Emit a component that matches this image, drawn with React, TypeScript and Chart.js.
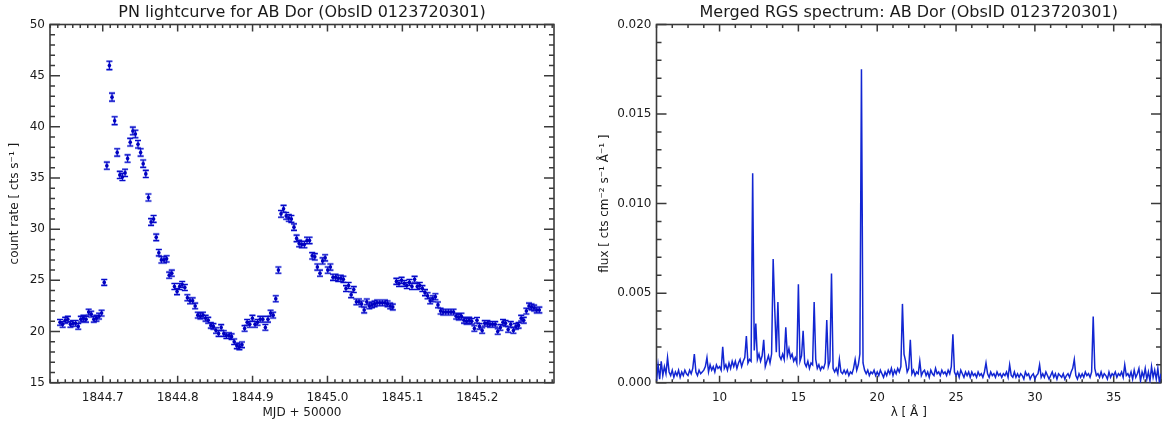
import React, { useEffect, useRef } from 'react';
import { Chart, registerables } from 'chart.js';
Chart.register(...registerables);

const FONT = '"DejaVu Sans", "Liberation Sans", sans-serif';
const INK = '#1a1a1a';
const FRAME = '#3a3a3a';

// ---------------- PN light curve ----------------
const lcTitle = 'PN lightcurve for AB Dor (ObsID 0123720301)';
const lcTime = [
  1844.6430, 1844.6465, 1844.6499, 1844.6534, 1844.6569, 1844.6604, 1844.6638, 1844.6673, 1844.6708, 1844.6742,
  1844.6777, 1844.6812, 1844.6846, 1844.6881, 1844.6916, 1844.6951, 1844.6985, 1844.7020, 1844.7055, 1844.7089,
  1844.7124, 1844.7159, 1844.7193, 1844.7228, 1844.7263, 1844.7298, 1844.7332, 1844.7367, 1844.7402, 1844.7436,
  1844.7471, 1844.7506, 1844.7540, 1844.7575, 1844.7610, 1844.7645, 1844.7679, 1844.7714, 1844.7749, 1844.7783,
  1844.7818, 1844.7853, 1844.7887, 1844.7922, 1844.7957, 1844.7992, 1844.8026, 1844.8061, 1844.8096, 1844.8130,
  1844.8165, 1844.8200, 1844.8234, 1844.8269, 1844.8304, 1844.8339, 1844.8373, 1844.8408, 1844.8443, 1844.8477,
  1844.8512, 1844.8547, 1844.8581, 1844.8616, 1844.8651, 1844.8686, 1844.8720, 1844.8755, 1844.8790, 1844.8824,
  1844.8859, 1844.8894, 1844.8928, 1844.8963, 1844.8998, 1844.9033, 1844.9067, 1844.9102, 1844.9137, 1844.9171,
  1844.9206, 1844.9241, 1844.9275, 1844.9310, 1844.9345, 1844.9380, 1844.9414, 1844.9449, 1844.9484, 1844.9518,
  1844.9553, 1844.9588, 1844.9622, 1844.9657, 1844.9692, 1844.9727, 1844.9761, 1844.9796, 1844.9831, 1844.9865,
  1844.9900, 1844.9935, 1844.9969, 1845.0004, 1845.0039, 1845.0074, 1845.0108, 1845.0143, 1845.0178, 1845.0212,
  1845.0247, 1845.0282, 1845.0316, 1845.0351, 1845.0386, 1845.0421, 1845.0455, 1845.0490, 1845.0525, 1845.0559,
  1845.0594, 1845.0629, 1845.0663, 1845.0698, 1845.0733, 1845.0768, 1845.0802, 1845.0837, 1845.0872,
  1845.0920, 1845.0955, 1845.0989, 1845.1024, 1845.1059, 1845.1094, 1845.1128, 1845.1163, 1845.1198, 1845.1232,
  1845.1267, 1845.1302, 1845.1336, 1845.1371, 1845.1406, 1845.1441, 1845.1475, 1845.1510, 1845.1545, 1845.1579,
  1845.1614, 1845.1649, 1845.1683, 1845.1718, 1845.1753, 1845.1788, 1845.1822, 1845.1857, 1845.1892, 1845.1926,
  1845.1961, 1845.1996, 1845.2030, 1845.2065, 1845.2100, 1845.2135, 1845.2169, 1845.2204, 1845.2239, 1845.2273,
  1845.2308, 1845.2343, 1845.2377, 1845.2412, 1845.2447, 1845.2482, 1845.2516, 1845.2551, 1845.2586, 1845.2620,
  1845.2655, 1845.2690, 1845.2724, 1845.2759, 1845.2794, 1845.2828,
];
const lcRate = [
  20.9, 20.7, 21.1, 21.2, 20.7, 20.8, 20.8, 20.5, 21.2, 21.3,
  21.2, 21.9, 21.7, 21.2, 21.3, 21.5, 21.8, 24.8, 36.2, 46.0,
  42.9, 40.6, 37.5, 35.3, 35.1, 35.5, 36.9, 38.5, 39.6, 39.3,
  38.3, 37.5, 36.4, 35.4, 33.1, 30.7, 31.0, 29.2, 27.7, 27.0,
  27.0, 27.1, 25.5, 25.7, 24.4, 23.9, 24.4, 24.6, 24.3, 23.3,
  23.0, 23.0, 22.5, 21.6, 21.5, 21.6, 21.3, 21.1, 20.6, 20.5,
  20.1, 19.8, 20.4, 19.8, 19.6, 19.6, 19.5, 19.0, 18.6, 18.5,
  18.7, 20.3, 20.9, 20.7, 21.3, 20.7, 20.9, 21.2, 21.2, 20.4,
  21.2, 21.8, 21.6, 23.2, 26.0, 31.5, 32.0, 31.3, 31.1, 31.0,
  30.2, 29.1, 28.6, 28.5, 28.5, 28.9, 28.9, 27.4, 27.3, 26.3,
  25.7, 26.9, 27.2, 26.0, 26.3, 25.3, 25.3, 25.2, 25.2, 25.1,
  24.2, 24.5, 23.6, 24.1, 22.9, 22.9, 22.7, 22.1, 22.9, 22.5,
  22.6, 22.7, 22.8, 22.8, 22.8, 22.8, 22.7, 22.5, 22.4,
  24.9, 24.7, 25.0, 24.7, 24.5, 24.8, 24.4, 25.1, 24.4, 24.5,
  24.2, 23.8, 23.5, 23.0, 23.2, 23.4, 22.6, 22.0, 21.9, 21.9,
  21.9, 21.9, 21.9, 21.5, 21.4, 21.5, 21.1, 21.0, 21.1, 21.0,
  20.3, 21.1, 20.5, 20.1, 20.8, 20.8, 20.7, 20.7, 20.7, 20.0,
  20.4, 20.9, 20.8, 20.2, 20.7, 20.1, 20.5, 20.6, 21.3, 21.1,
  22.0, 22.5, 22.4, 22.3, 22.1, 22.1,
];
const lcErr = [
  0.28, 0.28, 0.28, 0.28, 0.28, 0.28, 0.28, 0.28, 0.28, 0.28,
  0.28, 0.28, 0.28, 0.28, 0.28, 0.28, 0.28, 0.29, 0.35, 0.41,
  0.39, 0.38, 0.36, 0.35, 0.35, 0.35, 0.36, 0.37, 0.37, 0.37,
  0.37, 0.36, 0.36, 0.35, 0.34, 0.33, 0.33, 0.32, 0.31, 0.31,
  0.31, 0.31, 0.30, 0.30, 0.29, 0.29, 0.29, 0.29, 0.29, 0.29,
  0.29, 0.29, 0.28, 0.28, 0.28, 0.28, 0.28, 0.28, 0.27, 0.27,
  0.27, 0.27, 0.27, 0.27, 0.27, 0.27, 0.27, 0.27, 0.27, 0.27,
  0.27, 0.28, 0.28, 0.28, 0.28, 0.28, 0.28, 0.28, 0.28, 0.28,
  0.28, 0.28, 0.28, 0.29, 0.30, 0.33, 0.33, 0.33, 0.33, 0.33,
  0.32, 0.32, 0.31, 0.31, 0.31, 0.31, 0.31, 0.31, 0.31, 0.30,
  0.30, 0.30, 0.30, 0.30, 0.30, 0.30, 0.30, 0.30, 0.30, 0.30,
  0.29, 0.29, 0.29, 0.29, 0.28, 0.28, 0.28, 0.28, 0.28, 0.28,
  0.28, 0.28, 0.28, 0.28, 0.28, 0.28, 0.28, 0.28, 0.28,
  0.29, 0.29, 0.29, 0.29, 0.29, 0.29, 0.29, 0.29, 0.29, 0.29,
  0.29, 0.29, 0.29, 0.29, 0.29, 0.29, 0.28, 0.28, 0.28, 0.28,
  0.28, 0.28, 0.28, 0.28, 0.28, 0.28, 0.28, 0.28, 0.28, 0.28,
  0.27, 0.27, 0.27, 0.27, 0.27, 0.27, 0.27, 0.27, 0.27, 0.27,
  0.27, 0.27, 0.27, 0.27, 0.27, 0.27, 0.27, 0.27, 0.28, 0.28,
  0.28, 0.28, 0.28, 0.28, 0.28, 0.28,
];
const lcXTicks = [1844.7, 1844.8, 1844.9, 1845.0, 1845.1, 1845.2];
const lcYTicks = [15, 20, 25, 30, 35, 40, 45, 50];

// ---------------- RGS spectrum ----------------
const specTitle = 'Merged RGS spectrum: AB Dor (ObsID 0123720301)';
const wavelength = [
  6, 6.1, 6.2, 6.3, 6.4, 6.5, 6.6, 6.7, 6.8, 6.9,
  7, 7.1, 7.2, 7.3, 7.4, 7.5, 7.6, 7.7, 7.8, 7.9,
  8, 8.1, 8.2, 8.3, 8.4, 8.5, 8.6, 8.7, 8.8, 8.9,
  9, 9.1, 9.2, 9.3, 9.4, 9.5, 9.6, 9.7, 9.8, 9.9,
  10, 10.1, 10.2, 10.3, 10.4, 10.5, 10.6, 10.7, 10.8, 10.9,
  11, 11.1, 11.2, 11.3, 11.4, 11.5, 11.6, 11.7, 11.8, 11.9,
  12, 12.1, 12.2, 12.3, 12.4, 12.5, 12.6, 12.7, 12.8, 12.9,
  13, 13.1, 13.2, 13.3, 13.4, 13.5, 13.6, 13.7, 13.8, 13.9,
  14, 14.1, 14.2, 14.3, 14.4, 14.5, 14.6, 14.7, 14.8, 14.9,
  15, 15.1, 15.2, 15.3, 15.4, 15.5, 15.6, 15.7, 15.8, 15.9,
  16, 16.1, 16.2, 16.3, 16.4, 16.5, 16.6, 16.7, 16.8, 16.9,
  17, 17.1, 17.2, 17.3, 17.4, 17.5, 17.6, 17.7, 17.8, 17.9,
  18, 18.1, 18.2, 18.3, 18.4, 18.5, 18.6, 18.7, 18.8, 18.9,
  19, 19.1, 19.2, 19.3, 19.4, 19.5, 19.6, 19.7, 19.8, 19.9,
  20, 20.1, 20.2, 20.3, 20.4, 20.5, 20.6, 20.7, 20.8, 20.9,
  21, 21.1, 21.2, 21.3, 21.4, 21.5, 21.6, 21.7, 21.8, 21.9,
  22, 22.1, 22.2, 22.3, 22.4, 22.5, 22.6, 22.7, 22.8, 22.9,
  23, 23.1, 23.2, 23.3, 23.4, 23.5, 23.6, 23.7, 23.8, 23.9,
  24, 24.1, 24.2, 24.3, 24.4, 24.5, 24.6, 24.7, 24.8, 24.9,
  25, 25.1, 25.2, 25.3, 25.4, 25.5, 25.6, 25.7, 25.8, 25.9,
  26, 26.1, 26.2, 26.3, 26.4, 26.5, 26.6, 26.7, 26.8, 26.9,
  27, 27.1, 27.2, 27.3, 27.4, 27.5, 27.6, 27.7, 27.8, 27.9,
  28, 28.1, 28.2, 28.3, 28.4, 28.5, 28.6, 28.7, 28.8, 28.9,
  29, 29.1, 29.2, 29.3, 29.4, 29.5, 29.6, 29.7, 29.8, 29.9,
  30, 30.1, 30.2, 30.3, 30.4, 30.5, 30.6, 30.7, 30.8, 30.9,
  31, 31.1, 31.2, 31.3, 31.4, 31.5, 31.6, 31.7, 31.8, 31.9,
  32, 32.1, 32.2, 32.3, 32.4, 32.5, 32.6, 32.7, 32.8, 32.9,
  33, 33.1, 33.2, 33.3, 33.4, 33.5, 33.6, 33.7, 33.8, 33.9,
  34, 34.1, 34.2, 34.3, 34.4, 34.5, 34.6, 34.7, 34.8, 34.9,
  35, 35.1, 35.2, 35.3, 35.4, 35.5, 35.6, 35.7, 35.8, 35.9,
  36, 36.1, 36.2, 36.3, 36.4, 36.5, 36.6, 36.7, 36.8, 36.9,
  37, 37.1, 37.2, 37.3, 37.4, 37.5, 37.6, 37.7, 37.8, 37.9,
  38,
];
// flux in units of 1e-4 cts cm^-2 s^-1 A^-1
const fluxE4 = [
  1, 10, 2, 12, 4, 9, 5, 14, 6, 4,
  7, 3, 6, 4, 7, 3, 6, 4, 7, 5,
  4, 7, 5, 8, 16, 6, 4, 7, 5, 6,
  7, 9, 14, 6, 10, 7, 9, 6, 10, 8,
  9, 7, 20, 8, 10, 7, 11, 8, 12, 9,
  12, 8, 11, 13, 9, 12, 14, 26, 11, 13,
  12, 117, 18, 33, 13, 16, 12, 15, 24, 9,
  12, 15, 11, 16, 69, 41, 17, 45, 15, 13,
  16, 13, 31, 15, 19, 14, 16, 12, 14, 11,
  55, 12, 15, 29, 11, 9, 12, 8, 11, 10,
  45, 13, 8, 10, 7, 9, 8, 11, 35, 9,
  12, 61, 8, 6, 8, 5, 13, 6, 5, 7,
  5, 7, 4, 6, 5, 8, 13, 7, 10, 16,
  175, 11, 7, 5, 7, 4, 6, 5, 7, 4,
  6, 4, 7, 5, 3, 6, 4, 7, 5, 8,
  4, 7, 5, 8, 6, 9, 44, 16, 12, 6,
  8, 24, 5, 7, 4, 6, 5, 12, 4, 6,
  7, 4, 6, 3, 7, 5, 4, 8, 5, 6,
  4, 7, 5, 6, 4, 7, 5, 9, 27, 6,
  4, 6, 3, 7, 5, 3, 6, 4, 6, 3,
  6, 4, 5, 3, 6, 4, 5, 3, 6, 11,
  5, 3, 6, 4, 5, 3, 6, 4, 5, 3,
  5, 4, 6, 3, 10, 4, 3, 6, 3, 5,
  3, 5, 4, 2, 6, 4, 5, 2, 4, 5,
  2, 4, 5, 10, 3, 5, 3, 6, 4, 2,
  4, 6, 3, 5, 2, 5, 4, 3, 5, 2,
  4, 5, 3, 6, 8, 13, 4, 2, 5, 3,
  5, 3, 6, 4, 5, 3, 6, 37, 8, 4,
  5, 3, 6, 3, 5, 4, 2, 6, 3, 5,
  4, 6, 3, 5, 4, 6, 3, 10, 4, 5,
  3, 6, 2, 7, 3, 5, 8, 1, 6, 3,
  8, 2, 6, 1, 9, 3, 7, 2, 8, 0,
  5,
];
const specXTicks = [10, 15, 20, 25, 30, 35];
const specYTicks = [0, 0.005, 0.01, 0.015, 0.02];

// ---------------- plugins ----------------
function framePlugin(cfg: { title: string; xMinor: number; yMinor: number; xMajor: number[]; yMajor: number[] }) {
  return {
    id: 'idlFrame',
    beforeDatasetsDraw(chart: any) {
      const { ctx, chartArea: a, scales } = chart;
      const xs = scales.x, ys = scales.y;
      ctx.save();
      ctx.strokeStyle = FRAME;
      ctx.lineWidth = 1.5;
      const XMAJ = 7, XMIN = 3.5, YMAJ = 10, YMIN = 5;
      ctx.beginPath();
      const x0 = Math.ceil(xs.min / cfg.xMinor - 1e-6), x1 = Math.floor(xs.max / cfg.xMinor + 1e-6);
      for (let k = x0; k <= x1; k++) {
        const px = xs.getPixelForValue(k * cfg.xMinor);
        ctx.moveTo(px, a.bottom); ctx.lineTo(px, a.bottom - XMIN);
        ctx.moveTo(px, a.top); ctx.lineTo(px, a.top + XMIN);
      }
      for (const v of cfg.xMajor) {
        const px = xs.getPixelForValue(v);
        ctx.moveTo(px, a.bottom); ctx.lineTo(px, a.bottom - XMAJ);
        ctx.moveTo(px, a.top); ctx.lineTo(px, a.top + XMAJ);
      }
      const y0 = Math.ceil(ys.min / cfg.yMinor - 1e-6), y1 = Math.floor(ys.max / cfg.yMinor + 1e-6);
      for (let k = y0; k <= y1; k++) {
        const py = ys.getPixelForValue(k * cfg.yMinor);
        ctx.moveTo(a.left, py); ctx.lineTo(a.left + YMIN, py);
        ctx.moveTo(a.right, py); ctx.lineTo(a.right - YMIN, py);
      }
      for (const v of cfg.yMajor) {
        const py = ys.getPixelForValue(v);
        ctx.moveTo(a.left, py); ctx.lineTo(a.left + YMAJ, py);
        ctx.moveTo(a.right, py); ctx.lineTo(a.right - YMAJ, py);
      }
      ctx.stroke();
      ctx.lineWidth = 1.6;
      ctx.strokeRect(a.left, a.top, a.right - a.left, a.bottom - a.top);
      ctx.fillStyle = INK;
      ctx.font = `16px ${FONT}`;
      ctx.textAlign = 'center';
      ctx.textBaseline = 'middle';
      ctx.fillText(cfg.title, (a.left + a.right) / 2, 12.5);
      ctx.restore();
    },
  };
}

const errorBarPlugin = {
  id: 'errBars',
  beforeDatasetsDraw(chart: any) {
    const { ctx, scales } = chart;
    const xs = scales.x, ys = scales.y;
    ctx.save();
    for (const pass of [0, 1]) {
      ctx.strokeStyle = pass === 0 ? 'rgba(90,110,235,0.55)' : '#0a0ac8';
      ctx.lineWidth = pass === 0 ? 2.6 : 1.1;
      ctx.beginPath();
      for (let i = 0; i < lcTime.length; i++) {
        const px = xs.getPixelForValue(lcTime[i]);
        const lo = ys.getPixelForValue(lcRate[i] - lcErr[i]);
        const hi = ys.getPixelForValue(lcRate[i] + lcErr[i]);
        ctx.moveTo(px, lo); ctx.lineTo(px, hi);
        ctx.moveTo(px - 3, lo); ctx.lineTo(px + 3, lo);
        ctx.moveTo(px - 3, hi); ctx.lineTo(px + 3, hi);
      }
      ctx.stroke();
    }
    ctx.restore();
  },
};

const tickFont = { family: FONT, size: 12 };

function LightCurve() {
  const ref = useRef<HTMLCanvasElement>(null);
  useEffect(() => {
    const chart = new Chart(ref.current!, {
      type: 'scatter',
      data: {
        datasets: [{
          data: lcTime.map((t, i) => ({ x: t, y: lcRate[i] })),
          pointRadius: 1.8,
          pointBackgroundColor: '#0000c0',
          pointBorderWidth: 0,
          showLine: false,
        }],
      },
      options: {
        responsive: false,
        maintainAspectRatio: false,
        animation: false,
        events: [],
        layout: { padding: { top: 24.5, right: 26, left: 0, bottom: 0 } },
        plugins: { legend: { display: false }, tooltip: { enabled: false } },
        scales: {
          x: {
            type: 'linear', min: 1844.6296, max: 1845.3024,
            afterBuildTicks: (s: any) => { s.ticks = lcXTicks.map((v) => ({ value: v })); },
            afterFit: (s: any) => { s.height = 44.3; },
            grid: { display: false, drawTicks: false },
            border: { display: false },
            ticks: { padding: 8, color: INK, font: tickFont, maxRotation: 0, autoSkip: false, callback: (v: any) => Number(v).toFixed(1) },
            title: { display: true, text: 'MJD + 50000', color: INK, font: tickFont, padding: { top: 0, bottom: 7 } },
          },
          y: {
            type: 'linear', min: 15, max: 50,
            afterBuildTicks: (s: any) => { s.ticks = lcYTicks.map((v) => ({ value: v })); },
            afterFit: (s: any) => { s.width = 50; },
            grid: { display: false, drawTicks: false },
            border: { display: false },
            ticks: { padding: 5, color: INK, font: tickFont, callback: (v: any) => String(v) },
            title: { display: true, text: 'count rate [ cts s⁻¹ ]', color: INK, font: tickFont, padding: { top: 8, bottom: 0 } },
          },
        },
      },
      plugins: [framePlugin({ title: lcTitle, xMinor: 0.01, yMinor: 1, xMajor: lcXTicks, yMajor: lcYTicks }), errorBarPlugin],
    } as any);
    return () => chart.destroy();
  }, []);
  return <canvas ref={ref} width={580} height={427} style={{ position: 'absolute', left: 0, top: 0 }} />;
}

function Spectrum() {
  const ref = useRef<HTMLCanvasElement>(null);
  useEffect(() => {
    const chart = new Chart(ref.current!, {
      type: 'scatter',
      data: {
        datasets: [{
          data: wavelength.map((w, i) => ({ x: w, y: fluxE4[i] * 1e-4 })),
          showLine: true,
          pointRadius: 0,
          borderColor: '#1226d2',
          borderWidth: 1.5,
          tension: 0,
        }],
      },
      options: {
        responsive: false,
        maintainAspectRatio: false,
        animation: false,
        events: [],
        layout: { padding: { top: 24.5, right: 6, left: 0, bottom: 0 } },
        plugins: { legend: { display: false }, tooltip: { enabled: false } },
        scales: {
          x: {
            type: 'linear', min: 6, max: 38,
            afterBuildTicks: (s: any) => { s.ticks = specXTicks.map((v) => ({ value: v })); },
            afterFit: (s: any) => { s.height = 44.3; },
            grid: { display: false, drawTicks: false },
            border: { display: false },
            ticks: { padding: 8, color: INK, font: tickFont, maxRotation: 0, autoSkip: false, callback: (v: any) => String(v) },
            title: { display: true, text: 'λ [ Å ]', color: INK, font: tickFont, padding: { top: 0, bottom: 7 } },
          },
          y: {
            type: 'linear', min: 0, max: 0.02,
            afterBuildTicks: (s: any) => { s.ticks = specYTicks.map((v) => ({ value: v })); },
            afterFit: (s: any) => { s.width = 76.5; },
            grid: { display: false, drawTicks: false },
            border: { display: false },
            ticks: { padding: 5, color: INK, font: tickFont, callback: (v: any) => Number(v).toFixed(3) },
            title: { display: true, text: 'flux [ cts cm⁻² s⁻¹ Å⁻¹ ]', color: INK, font: tickFont, padding: { top: 18, bottom: 0 } },
          },
        },
      },
      plugins: [framePlugin({ title: specTitle, xMinor: 1, yMinor: 0.001, xMajor: specXTicks, yMajor: specYTicks })],
    } as any);
    return () => chart.destroy();
  }, []);
  return <canvas ref={ref} width={587} height={427} style={{ position: 'absolute', left: 580, top: 0 }} />;
}

export default function App() {
  return (
    <div style={{ position: 'absolute', left: 0, top: 0, width: 1167, height: 427, background: '#fff', overflow: 'hidden' }}>
      <LightCurve />
      <Spectrum />
    </div>
  );
}
